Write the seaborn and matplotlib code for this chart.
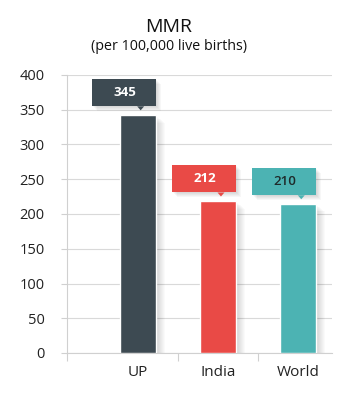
import matplotlib
matplotlib.use("Agg")
import matplotlib.pyplot as plt
import seaborn as sns
import numpy as np
import pandas as pd
from matplotlib.patches import Rectangle, Polygon

categories = ["UP", "India", "World"]
bar_values = [342, 218, 214]
label_values = ["345", "212", "210"]
bar_colors = ["#3d4a52", "#e94a46", "#4cb3b3"]
label_text_colors = ["white", "white", "#1e2a2a"]
label_weights = ["bold", "bold", "semibold"]
yticks = [0, 50, 100, 150, 200, 250, 300, 350, 400]

sns.set_theme(style="white")
plt.rcParams['font.family'] = ['Open Sans', 'DejaVu Sans']

W, H = 337, 400
fig = plt.figure(figsize=(W / 100, H / 100), dpi=100)
ax_l, ax_r, ax_b, ax_t = 67, 332, 353, 75
ax = fig.add_axes([ax_l / W, 1 - ax_b / H, (ax_r - ax_l) / W, (ax_b - ax_t) / H])

df = pd.DataFrame({"cat": categories, "val": bar_values})
sns.barplot(data=df, x="cat", y="val", hue="cat", palette=bar_colors,
            width=0.45, legend=False, ax=ax, zorder=3, saturation=1)

xmin, xmax = -0.88, 2.42
ax.set_xlim(xmin, xmax)
ax.set_ylim(0, 400)

# pixel -> data unit conversions
px_x = (xmax - xmin) / (ax_r - ax_l)
px_y = 400 / (ax_b - ax_t)

# bar shadows
for i, v in enumerate(bar_values):
    for k in range(1, 10):
        ax.add_patch(Rectangle((i - 0.225 + k * px_x, 0), 0.45, v - (k * 0.8) * px_y,
                               facecolor="black", alpha=0.018, lw=0, zorder=2))

# callouts
box_w = 64 * px_x
box_h = 27 * px_y
for i, (v, lab, tc, fw, col) in enumerate(zip(bar_values, label_values, label_text_colors,
                                               label_weights, bar_colors)):
    cx = i - 14 * px_x
    bottom = v + 9 * px_y
    # shadow
    for k in range(1, 6):
        ax.add_patch(Rectangle((cx - box_w / 2 + k * px_x, bottom - k * px_y), box_w, box_h,
                               facecolor="black", alpha=0.03, lw=0, zorder=4))
    ax.add_patch(Rectangle((cx - box_w / 2, bottom), box_w, box_h,
                           facecolor=col, lw=0, zorder=5))
    pxp = cx + 17 * px_x
    ax.add_patch(Polygon([(pxp - 3.5 * px_x, bottom), (pxp + 3.5 * px_x, bottom),
                          (pxp, bottom - 4 * px_y)], closed=True,
                         facecolor=col, lw=0, zorder=5))
    ax.text(cx + 1 * px_x, bottom + box_h / 2, lab, ha="center", va="center",
            color=tc, fontsize=9.5, fontweight=fw, zorder=6)

# axes styling
ax.set_yticks(yticks)
ax.set_yticklabels([str(t) for t in yticks], fontsize=10.5, color="#222222")
ax.yaxis.grid(True, color="#d9d9d9", lw=0.8, zorder=0)
ax.set_axisbelow(True)
ax.tick_params(axis="y", length=4, color="#d0d0d0", pad=12, width=0.8, direction="out", left=True)

ax.set_xticks([xmin, 0.5, 1.5])
ax.set_xticklabels(["", "", ""])
ax.set_xticks([0, 1, 2], minor=True)
ax.set_xticklabels(categories, minor=True, fontsize=11, color="#222222")
ax.tick_params(axis="x", which="major", length=6, color="#d0d0d0", width=0.8, bottom=True)
ax.tick_params(axis="x", which="minor", length=0, pad=9)

for s in ["top", "right"]:
    ax.spines[s].set_visible(False)
for s in ["left", "bottom"]:
    ax.spines[s].set_color("#d0d0d0")
    ax.spines[s].set_linewidth(0.8)
ax.set_xlabel("")
ax.set_ylabel("")

fig.text(169 / W, 1 - 27 / H, "MMR", ha="center", va="center", fontsize=14, color="#111111")
fig.text(169 / W, 1 - 46 / H, "(per 100,000 live births)", ha="center", va="center",
         fontsize=10.3, color="#111111")

fig.savefig("out.png", dpi=100, facecolor="white")
